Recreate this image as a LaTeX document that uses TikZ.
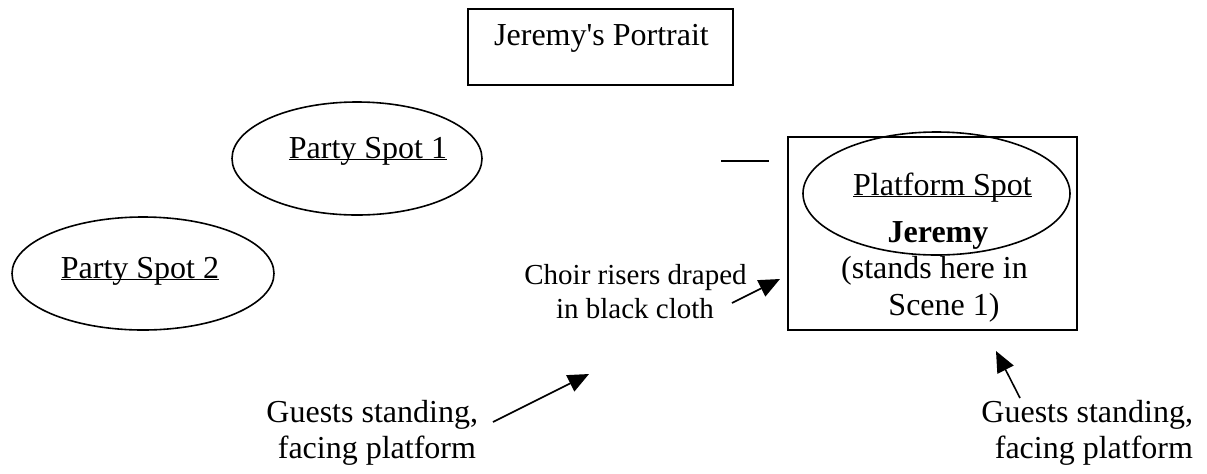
\documentclass[tikz,border=0pt]{standalone}
\usepackage{fontspec}
\setmainfont{Liberation Serif}[Ligatures=TeXOff]
\usetikzlibrary{shapes.geometric,arrows.meta}
\newcommand\myul[1]{\setbox0\hbox{#1}\rlap{\rule[-1.2pt]{\wd0}{0.8pt}}\box0}
\tikzset{
  outline/.style={draw, line width=0.8pt},
  spot/.style={outline, ellipse, inner sep=0pt, outer sep=0pt},
  txt/.style={inner sep=0pt, outer sep=0pt, font=\fontsize{16}{18.4}\selectfont},
  smalltxt/.style={inner sep=0pt, outer sep=0pt, font=\fontsize{14.5}{16.7}\selectfont},
  pointer/.style={line width=0.8pt, -{Triangle[length=10.5pt,width=9pt]}}
}
\begin{document}
\begin{tikzpicture}[x=0.5pt,y=-0.5pt]
\useasboundingbox (0,0) rectangle (1207,473);
% portrait
\draw[outline] (468,9) rectangle (733,85);
\node[txt, anchor=base] (portrait) at (601.5,45) {Jeremy's Portrait};
% party spots
\node[spot, minimum width=125pt, minimum height=56.5pt] (ps1) at (357,158.5) {};
\node[txt, anchor=base] (ps1t) at (368,158) {\myul{Party Spot 1}};
\node[spot, minimum width=131pt, minimum height=56.5pt] (ps2) at (143,273.5) {};
\node[txt, anchor=base] (ps2t) at (140,278) {\myul{Party Spot 2}};
% short line
\coordinate (s1) at (721,161);
\coordinate (s2) at (769,161);
\draw[line width=0.8pt] (s1) -- (s2);
% platform
\draw[outline] (788,137) rectangle (1077,330);
\node[spot, minimum width=133.5pt, minimum height=61.5pt] (plat) at (936.5,193.5) {};
\node[txt, anchor=base] (platt) at (942.5,195) {\myul{Platform Spot}};
\node[txt, anchor=base] (jer) at (938,242) {\textbf{Jeremy}};
\node[txt, anchor=base] (st1) at (934.5,278) {(stands here in};
\node[txt, anchor=base] (st2) at (944,315) {Scene 1)};
% choir
\node[smalltxt, anchor=base] (ch1) at (635.5,284) {Choir risers draped};
\node[smalltxt, anchor=base] (ch2) at (635,318) {in black cloth};
\coordinate (cha) at (732,303);
\coordinate (chb) at (780,279);
\draw[pointer] (cha) -- (chb);
% guests left
\node[txt, anchor=base east] (gl1) at (478,422) {Guests standing,};
\node[txt, anchor=base east] (gl2) at (476,458) {facing platform};
\coordinate (gla) at (493,422);
\coordinate (glb) at (589,374);
\draw[pointer] (gla) -- (glb);
% guests right
\node[txt, anchor=base east] (gr1) at (1193,422) {Guests standing,};
\node[txt, anchor=base east] (gr2) at (1193,458) {facing platform};
\coordinate (gra) at (1020,398);
\coordinate (grb) at (996,351);
\draw[pointer] (gra) -- (grb);
\end{tikzpicture}
\end{document}
